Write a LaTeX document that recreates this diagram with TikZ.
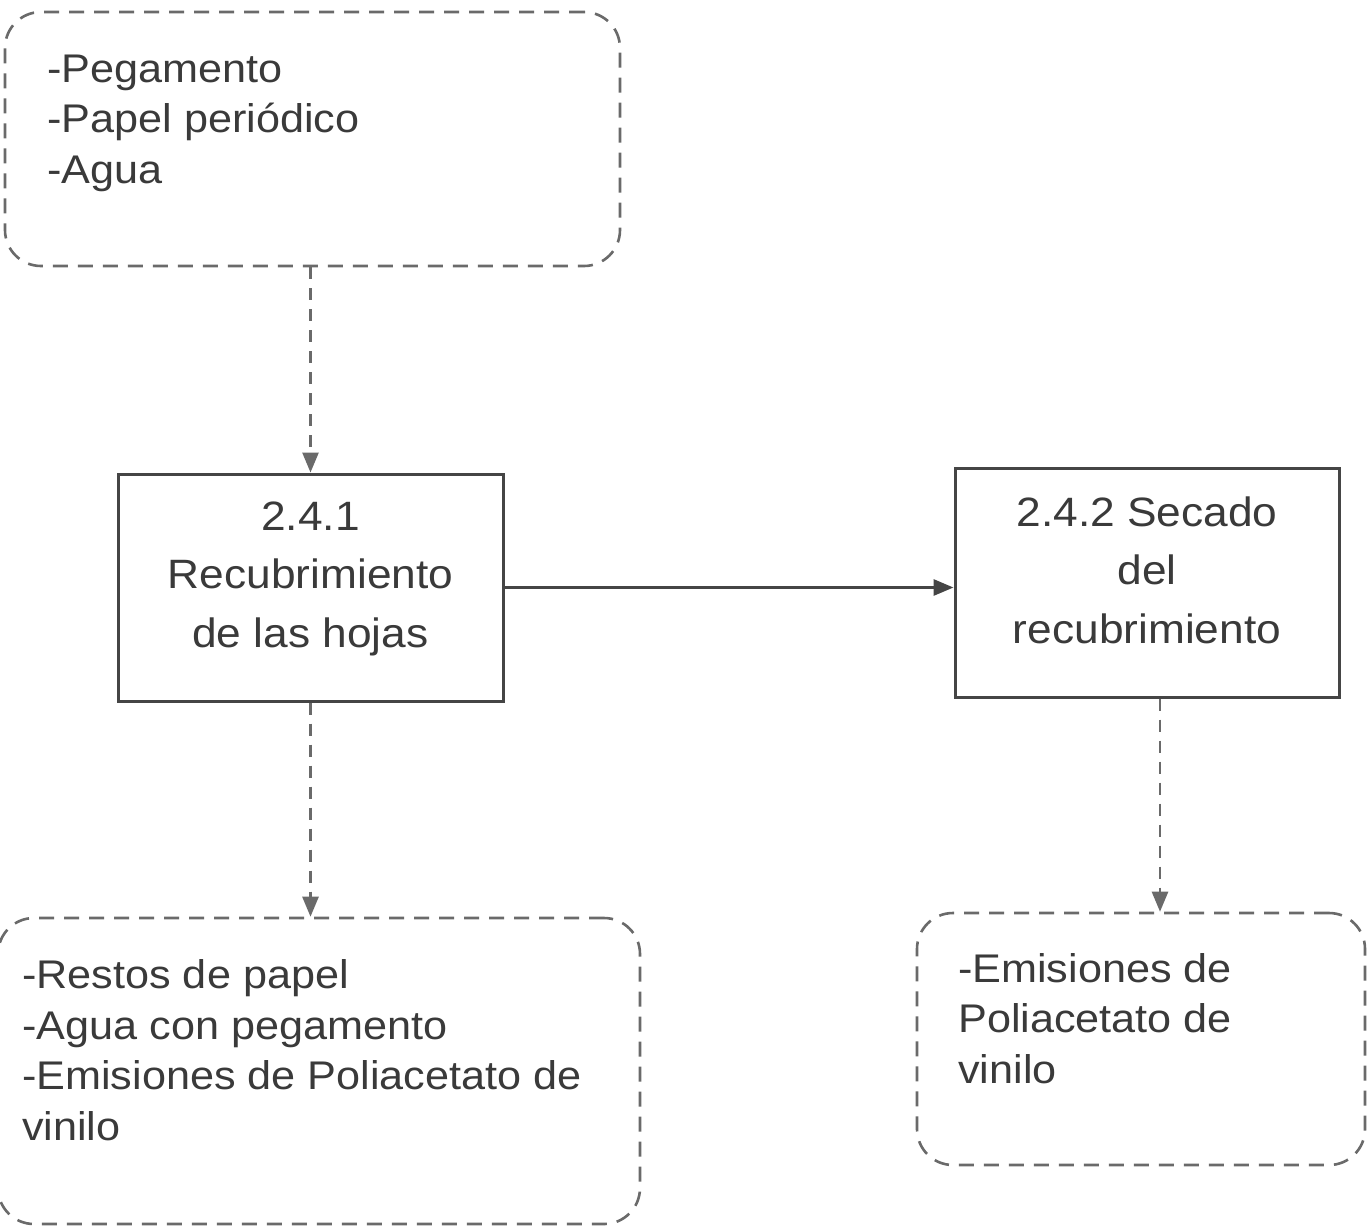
\documentclass[tikz,border=0pt]{standalone}
\usepackage{fontspec}
\setmainfont[FakeStretch=1.08]{Liberation Sans}
\usetikzlibrary{arrows.meta,calc}
\definecolor{linegray}{HTML}{6A6A6A}
\definecolor{boxgray}{HTML}{454545}
\definecolor{txtgray}{HTML}{3A3A3A}
\begin{document}
\begin{tikzpicture}[x=1pt,y=-1pt,
  dbox/.style={draw=linegray,line width=2.6pt,dash pattern=on 15pt off 10pt,rounded corners=36pt,rectangle,inner sep=0pt},
  pbox/.style={draw=boxgray,line width=3pt,rectangle,inner sep=0pt},
  listtxt/.style={anchor=base west,inner sep=0pt,align=left,text=txtgray,font=\fontsize{40}{50.5}\selectfont},
  proctxt/.style={anchor=base,inner sep=0pt,align=center,text=txtgray,font=\fontsize{41}{58.5}\selectfont},
  dflow/.style={draw=linegray,line width=2.6pt,dash pattern=on 12pt off 9pt,-{Triangle[length=20pt,width=16pt]}},
  sflow/.style={draw=boxgray,line width=3pt,-{Triangle[length=20pt,width=16pt]}}]
\useasboundingbox (0,0) rectangle (1368,1227);
\fill[white] (0,0) rectangle (1368,1227);
% boxes
\node[dbox,minimum width=615pt,minimum height=254pt] (top) at (312.5,139) {};
\node[pbox,minimum width=385pt,minimum height=227pt] (p1) at (310.5,587.5) {};
\node[pbox,minimum width=384pt,minimum height=229pt] (p2) at (1147,582.5) {};
\node[dbox,minimum width=642pt,minimum height=306pt] (bl) at (319,1071) {};
\node[dbox,minimum width=448pt,minimum height=252pt] (br) at (1141,1039) {};
% texts (anchor = baseline of last line)
\node[listtxt] (ttop) at (47,183) {-Pegamento\\-Papel periódico\\-Agua};
\node[proctxt] (t1) at (310.5,647) {2.4.1\\Recubrimiento\\de las hojas};
\node[proctxt] (t2) at (1147,643) {2.4.2 Secado\\del\\recubrimiento};
\node[listtxt] (tbl) at (22,1140) {-Restos de papel\\-Agua con pegamento\\-Emisiones de Poliacetato de\\vinilo};
\node[listtxt] (tbr) at (958,1083) {-Emisiones de\\Poliacetato de\\vinilo};
% connectors
\coordinate (a2) at ($(p2.south)+(13,0)$);
\draw[dflow] (p1.north |- top.south) -- (p1.north);
\draw[dflow] (p1.south) -- (p1.south |- bl.north);
\draw[dflow] (a2) -- (a2 |- br.north);
\draw[sflow] (p1.east) -- (p1.east -| p2.west);
\end{tikzpicture}
\end{document}
